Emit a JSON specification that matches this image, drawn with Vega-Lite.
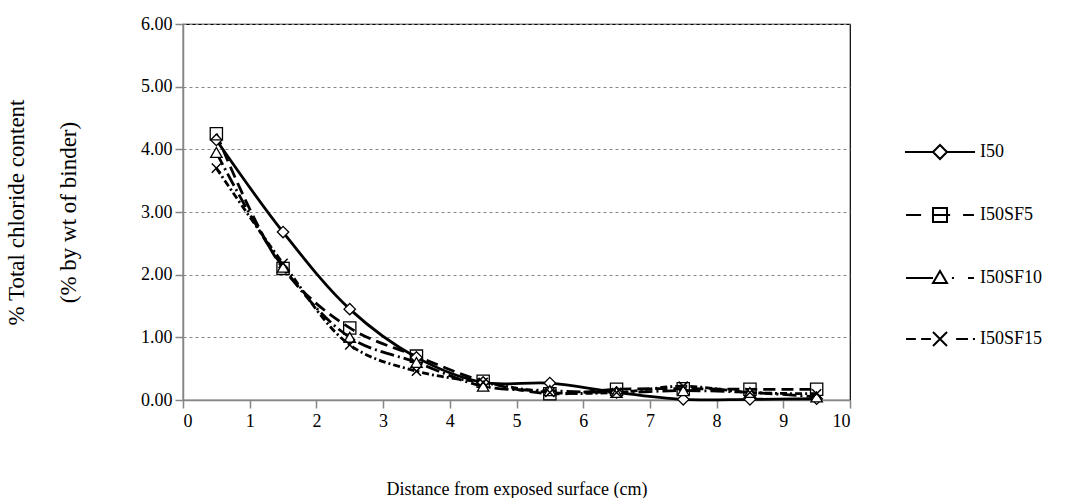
{
  "$schema": "https://vega.github.io/schema/vega-lite/v6.json",
  "width": 667,
  "height": 376,
  "autosize": {"type": "none"},
  "padding": {"left": 183, "top": 24, "right": 218, "bottom": 98},
  "background": "white",
  "config": {
    "view": {"stroke": "#000000", "strokeWidth": 1.2},
    "font": "Liberation Serif",
    "axis": {
      "labelFont": "Liberation Serif",
      "titleFont": "Liberation Serif",
      "labelFontSize": 18,
      "titleFontSize": 18,
      "titleFontWeight": "normal",
      "labelColor": "#000000",
      "titleColor": "#000000",
      "domainColor": "#868686",
      "domainWidth": 1.5,
      "tickColor": "#868686",
      "tickWidth": 1.5,
      "tickSize": 8
    },
    "legend": {
      "labelFont": "Liberation Serif",
      "labelFontSize": 18,
      "labelColor": "#000000"
    }
  },
  "data": {
    "values": [
      {"series": "I50", "distance": 0.5, "chloride": 4.15},
      {"series": "I50", "distance": 1.5, "chloride": 2.68},
      {"series": "I50", "distance": 2.5, "chloride": 1.45},
      {"series": "I50", "distance": 3.5, "chloride": 0.68},
      {"series": "I50", "distance": 4.5, "chloride": 0.28},
      {"series": "I50", "distance": 5.5, "chloride": 0.27},
      {"series": "I50", "distance": 6.5, "chloride": 0.12},
      {"series": "I50", "distance": 7.5, "chloride": 0.01},
      {"series": "I50", "distance": 8.5, "chloride": 0.01},
      {"series": "I50", "distance": 9.5, "chloride": 0.02},
      {"series": "I50SF5", "distance": 0.5, "chloride": 4.25},
      {"series": "I50SF5", "distance": 1.5, "chloride": 2.1},
      {"series": "I50SF5", "distance": 2.5, "chloride": 1.15},
      {"series": "I50SF5", "distance": 3.5, "chloride": 0.7},
      {"series": "I50SF5", "distance": 4.5, "chloride": 0.3},
      {"series": "I50SF5", "distance": 5.5, "chloride": 0.1},
      {"series": "I50SF5", "distance": 6.5, "chloride": 0.17},
      {"series": "I50SF5", "distance": 7.5, "chloride": 0.18},
      {"series": "I50SF5", "distance": 8.5, "chloride": 0.17},
      {"series": "I50SF5", "distance": 9.5, "chloride": 0.17},
      {"series": "I50SF10", "distance": 0.5, "chloride": 3.95},
      {"series": "I50SF10", "distance": 1.5, "chloride": 2.12},
      {"series": "I50SF10", "distance": 2.5, "chloride": 1.0},
      {"series": "I50SF10", "distance": 3.5, "chloride": 0.6},
      {"series": "I50SF10", "distance": 4.5, "chloride": 0.22},
      {"series": "I50SF10", "distance": 5.5, "chloride": 0.15},
      {"series": "I50SF10", "distance": 6.5, "chloride": 0.12},
      {"series": "I50SF10", "distance": 7.5, "chloride": 0.15},
      {"series": "I50SF10", "distance": 8.5, "chloride": 0.12},
      {"series": "I50SF10", "distance": 9.5, "chloride": 0.05},
      {"series": "I50SF15", "distance": 0.5, "chloride": 3.7},
      {"series": "I50SF15", "distance": 1.5, "chloride": 2.18},
      {"series": "I50SF15", "distance": 2.5, "chloride": 0.88},
      {"series": "I50SF15", "distance": 3.5, "chloride": 0.46},
      {"series": "I50SF15", "distance": 4.5, "chloride": 0.28},
      {"series": "I50SF15", "distance": 5.5, "chloride": 0.12},
      {"series": "I50SF15", "distance": 6.5, "chloride": 0.12},
      {"series": "I50SF15", "distance": 7.5, "chloride": 0.22},
      {"series": "I50SF15", "distance": 8.5, "chloride": 0.12},
      {"series": "I50SF15", "distance": 9.5, "chloride": 0.1}
    ]
  },
  "encoding": {
    "x": {
      "field": "distance",
      "type": "quantitative",
      "scale": {"domain": [0, 10], "nice": false},
      "axis": {
        "title": "Distance from exposed surface (cm)",
        "values": [0, 1, 2, 3, 4, 5, 6, 7, 8, 9, 10],
        "grid": false,
        "labelPadding": 4,
        "titlePadding": 50
      }
    },
    "y": {
      "field": "chloride",
      "type": "quantitative",
      "scale": {"domain": [0, 6], "nice": false},
      "axis": {
        "title": ["% Total chloride content", "(% by wt of binder)"],
        "values": [0, 1, 2, 3, 4, 5, 6],
        "format": ".2f",
        "grid": true,
        "gridColor": "#868686",
        "gridDash": [3, 3],
        "gridWidth": 1,
        "labelPadding": 3,
        "titleFontSize": 23,
        "titlePadding": 60,
        "titleLineHeight": 52
      }
    },
    "color": {
      "field": "series",
      "type": "nominal",
      "scale": {
        "domain": ["I50", "I50SF5", "I50SF10", "I50SF15"],
        "range": ["#000000", "#000000", "#000000", "#000000"]
      },
      "legend": {
        "title": null,
        "orient": "none",
        "legendX": 721,
        "legendY": 92,
        "padding": 0,
        "symbolType": "stroke",
        "symbolSize": 4900,
        "symbolStrokeWidth": 2,
        "labelOffset": 4,
        "rowPadding": 16,
        "encode": {
          "symbols": {
            "update": {
              "fill": {"value": "#ffffff"},
              "fillOpacity": {"value": 1},
              "stroke": {"value": "#000000"},
              "shape": {
                "signal": "datum.value === 'I50' ? 'M-1,0H-0.2M0,-0.2L0.2,0L0,0.2L-0.2,0ZM0.2,0H1' : datum.value === 'I50SF5' ? 'M-0.97,0H-0.54M-0.2,-0.2H0.2V0.2H-0.2ZM-0.2,0H0.29M0.66,0H0.97' : datum.value === 'I50SF10' ? 'M-0.97,0H-0.2M0,-0.2L0.2,0.14H-0.2ZM0.34,0H0.4M0.8,0H0.97' : 'M-0.97,0H-0.69M-0.54,0H-0.26M-0.2,-0.2L0.2,0.2M-0.2,0.2L0.2,-0.2M0.46,0H0.8M0.94,0H1'"
              }
            }
          }
        }
      }
    }
  },
  "layer": [
    {
      "transform": [{"filter": "datum.series === 'I50'"}],
      "mark": {"type": "line", "interpolate": "catmull-rom", "strokeWidth": 2.8}
    },
    {
      "transform": [{"filter": "datum.series === 'I50SF5'"}],
      "mark": {"type": "line", "interpolate": "catmull-rom", "strokeWidth": 2.8, "strokeDash": [12, 6]}
    },
    {
      "transform": [{"filter": "datum.series === 'I50SF10'"}],
      "mark": {"type": "line", "interpolate": "catmull-rom", "strokeWidth": 2.8, "strokeDash": [14, 4, 2, 4]}
    },
    {
      "transform": [{"filter": "datum.series === 'I50SF15'"}],
      "mark": {"type": "line", "interpolate": "catmull-rom", "strokeWidth": 2.8, "strokeDash": [7, 3, 2, 3]}
    },
    {
      "transform": [{"filter": "datum.series === 'I50'"}],
      "mark": {"type": "point", "shape": "diamond", "size": 130, "strokeWidth": 1.3, "fill": "#ffffff", "filled": false, "fillOpacity": 1, "opacity": 1}
    },
    {
      "transform": [{"filter": "datum.series === 'I50SF5'"}],
      "mark": {"type": "point", "shape": "square", "size": 150, "strokeWidth": 1.3, "filled": false, "opacity": 1}
    },
    {
      "transform": [{"filter": "datum.series === 'I50SF10'"}],
      "mark": {"type": "point", "shape": "triangle-up", "size": 130, "strokeWidth": 1.3, "fill": "#ffffff", "filled": false, "fillOpacity": 1, "opacity": 1}
    },
    {
      "transform": [{"filter": "datum.series === 'I50SF15'"}],
      "mark": {"type": "point", "shape": "M-0.8,-0.8L0.8,0.8M-0.8,0.8L0.8,-0.8", "size": 130, "strokeWidth": 1.5, "filled": false, "opacity": 1}
    }
  ]
}
